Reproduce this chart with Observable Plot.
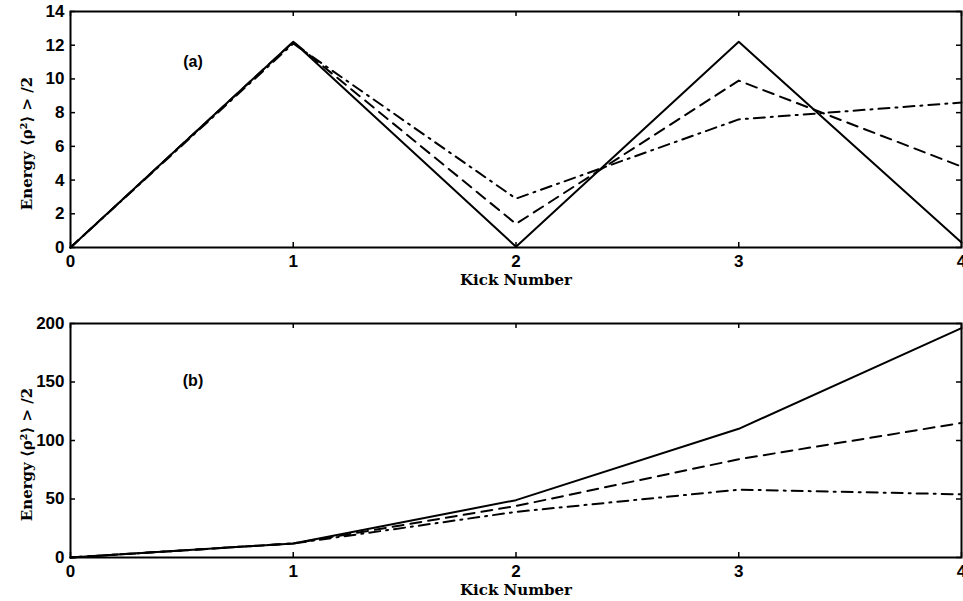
<!DOCTYPE html>
<html>
<head>
<meta charset="utf-8">
<script src="https://cdn.jsdelivr.net/npm/d3@7"></script>
<script src="https://cdn.jsdelivr.net/npm/@observablehq/plot@0.6"></script>
<style>
  html, body { margin: 0; padding: 0; background: #fff; }
  #chart { width: 963px; }
  #chart svg { display: block; }
</style>
</head>
<body>
<div id="chart"></div>
<script>
// ---- data ----
const kicks = [0, 1, 2, 3, 4];
const xTicks = [0, 1, 2, 3, 4];

const aSolid   = [0, 12.2, 0.05, 12.2, 0.3];
const aDashed  = [0, 12.2, 1.4, 9.9, 4.8];
const aDashDot = [0, 12.1, 2.9, 7.6, 8.6];
const aYTicks  = [0, 2, 4, 6, 8, 10, 12, 14];

const bSolid   = [0, 12, 49, 110, 196];
const bDashed  = [0, 12, 44, 84, 115];
const bDashDot = [0, 12, 39, 58, 54];
const bYTicks  = [0, 50, 100, 150, 200];

const xLabel = "Kick Number";
const yLabel = "Energy \u27E8\u03C1\u00B2\u27E9 > /2";
const panelA = [{x: 0.55, y: 11, text: "(a)"}];
const panelB = [{x: 0.55, y: 151, text: "(b)"}];

// ---- helpers ----
function rows(vals, style) {
  return kicks.map((k, i) => ({kick: k, value: vals[i], style}));
}

const W = 963, ML = 70, MR = 2;
const PW = W - ML - MR;

function panel({height, marginTop, marginBottom, yDomain, yTicks, series, tag}) {
  const PH = height - marginTop - marginBottom;
  const tick = 5;
  const sans = "Liberation Sans, Arial, sans-serif";
  const serif = "DejaVu Serif, Liberation Serif, serif";
  return Plot.plot({
    width: W,
    height,
    marginLeft: ML,
    marginRight: MR,
    marginTop,
    marginBottom,
    style: {fontFamily: sans, fontSize: "17px", fontWeight: "bold", color: "black", background: "white"},
    x: {domain: [0, 4], label: null},
    y: {domain: yDomain, label: null},
    marks: [
      // tick labels
      Plot.axisX({ticks: xTicks, tickSize: 0, tickPadding: 7, tickFormat: d => String(d), fontFamily: sans, fontSize: 17, fontWeight: "bold"}),
      Plot.axisY({ticks: yTicks, tickSize: 0, tickPadding: 6, tickFormat: d => String(d), fontFamily: sans, fontSize: 17, fontWeight: "bold"}),
      // inward tick marks on all four sides
      Plot.ruleX(xTicks, {x: d => d, insetTop: PH - tick, stroke: "black", strokeWidth: 1.5}),
      Plot.ruleX(xTicks, {x: d => d, insetBottom: PH - tick, stroke: "black", strokeWidth: 1.5}),
      Plot.ruleY(yTicks, {y: d => d, insetRight: PW - tick, stroke: "black", strokeWidth: 1.5}),
      Plot.ruleY(yTicks, {y: d => d, insetLeft: PW - tick, stroke: "black", strokeWidth: 1.5}),
      // series
      Plot.line(series.solid, {x: "kick", y: "value", stroke: "black", strokeWidth: 2}),
      Plot.line(series.dashed, {x: "kick", y: "value", stroke: "black", strokeWidth: 2, strokeDasharray: "11,7"}),
      Plot.line(series.dashdot, {x: "kick", y: "value", stroke: "black", strokeWidth: 2, strokeDasharray: "11,6,2,6"}),
      Plot.frame({stroke: "black", strokeWidth: 2}),
      // panel tag
      Plot.text(tag, {x: "x", y: "y", text: "text", fontFamily: sans, fontSize: 16, fontWeight: "bold", fill: "black"}),
      // axis titles
      Plot.text([xLabel], {frameAnchor: "bottom", dy: 33, text: d => d, fontFamily: serif, fontSize: 15, fontWeight: "bold", fill: "black", textAnchor: "middle", lineAnchor: "middle"}),
      Plot.text([yLabel], {frameAnchor: "left", dx: -43, dy: 14, rotate: -90, text: d => d, fontFamily: serif, fontSize: 15, fontWeight: "bold", fill: "black", textAnchor: "middle", lineAnchor: "middle"})
    ]
  });
}

const chart = document.getElementById("chart");
chart.append(panel({
  height: 300, marginTop: 11, marginBottom: 53,
  yDomain: [0, 14], yTicks: aYTicks, tag: panelA,
  series: {solid: rows(aSolid, "solid"), dashed: rows(aDashed, "dashed"), dashdot: rows(aDashDot, "dashdot")}
}));
chart.append(panel({
  height: 301, marginTop: 23, marginBottom: 44,
  yDomain: [0, 200], yTicks: bYTicks, tag: panelB,
  series: {solid: rows(bSolid, "solid"), dashed: rows(bDashed, "dashed"), dashdot: rows(bDashDot, "dashdot")}
}));
</script>
</body>
</html>
